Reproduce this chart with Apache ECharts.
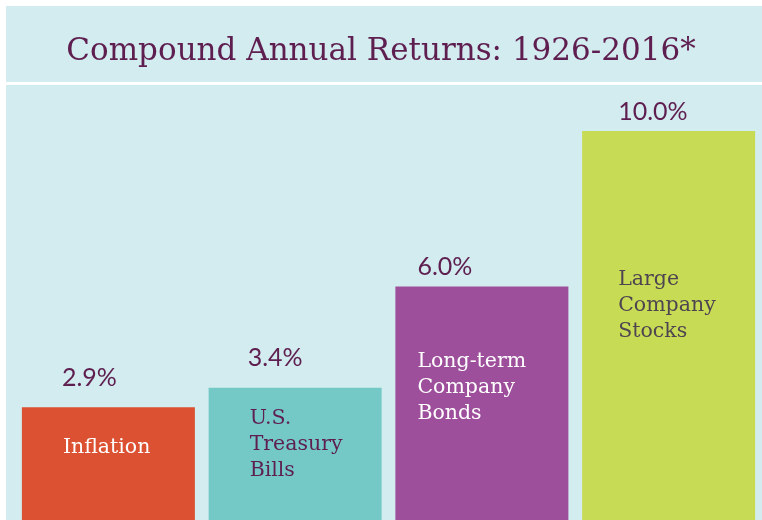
<!DOCTYPE html>
<html>
<head>
<meta charset="utf-8">
<script src="https://cdn.jsdelivr.net/npm/echarts@6/dist/echarts.min.js"></script>
<style>
  html, body { margin: 0; padding: 0; background: #ffffff; }
  #chart { width: 762px; height: 520px; }
</style>
</head>
<body>
<div id="chart"></div>
<script>
// data
var categories = ['Inflation', 'U.S.\nTreasury\nBills', 'Long-term\nCompany\nBonds', 'Large\nCompany\nStocks'];
var returns = [2.9, 3.4, 6.0, 10.0];

// styling
var barColors = ['#db5131', '#74c9c7', '#9d4f9c', '#c8db55'];
var nameColors = ['#ffffff', '#5e1f50', '#ffffff', '#4e4550'];
var namePos = [[41, 27], [41, 18], [22, 62], [36, 136]];   // inside bar, from top-left
var valuePos = [[40, -42], [39, -43], [22, -33], [36, -32]]; // above bar

var myChart = echarts.init(document.getElementById('chart'));

var barData = returns.map(function (v, i) {
    return {
        value: v,
        itemStyle: { color: barColors[i] },
        label: { position: namePos[i], color: nameColors[i] }
    };
});
var valueData = returns.map(function (v, i) {
    return {
        value: v,
        label: { position: valuePos[i] }
    };
});

var option = {
    backgroundColor: '#d3ecef',
    animation: false,
    title: {
        text: 'Compound Annual Returns: 1926-2016*',
        left: 'center',
        top: 31,
        textStyle: {
            color: '#5e1f50',
            fontFamily: 'DejaVu Serif',
            fontWeight: 'normal',
            fontSize: 31
        }
    },
    graphic: [
        { type: 'rect', left: 0, top: 0, shape: { width: 762, height: 6 }, style: { fill: '#ffffff' }, silent: true },
        { type: 'rect', left: 0, top: 0, shape: { width: 6, height: 520 }, style: { fill: '#ffffff' }, silent: true },
        { type: 'rect', left: 6, top: 82, shape: { width: 756, height: 3 }, style: { fill: '#ffffff' }, silent: true }
    ],
    grid: {
        left: 15,
        right: -1,
        top: 131,
        bottom: 0,
        containLabel: false
    },
    xAxis: {
        type: 'category',
        data: categories,
        axisLine: { show: false },
        axisTick: { show: false },
        axisLabel: { show: false },
        splitLine: { show: false }
    },
    yAxis: {
        type: 'value',
        min: 0,
        max: 10,
        show: false,
        splitLine: { show: false }
    },
    series: [
        {
            type: 'bar',
            barWidth: 173,
            data: barData,
            z: 2,
            label: {
                show: true,
                formatter: function (p) { return categories[p.dataIndex]; },
                fontFamily: 'DejaVu Serif',
                fontSize: 20.5,
                lineHeight: 26,
                align: 'left',
                verticalAlign: 'top'
            }
        },
        {
            type: 'bar',
            barWidth: 173,
            barGap: '-100%',
            data: valueData,
            z: 3,
            itemStyle: { color: 'rgba(0,0,0,0)' },
            label: {
                show: true,
                formatter: function (p) { return p.value.toFixed(1) + '%'; },
                fontFamily: 'Lato',
                fontWeight: 'normal',
                fontSize: 25,
                lineHeight: 26,
                color: '#5e1f50',
                align: 'left',
                verticalAlign: 'top'
            }
        }
    ]
};
myChart.setOption(option);
</script>
</body>
</html>
